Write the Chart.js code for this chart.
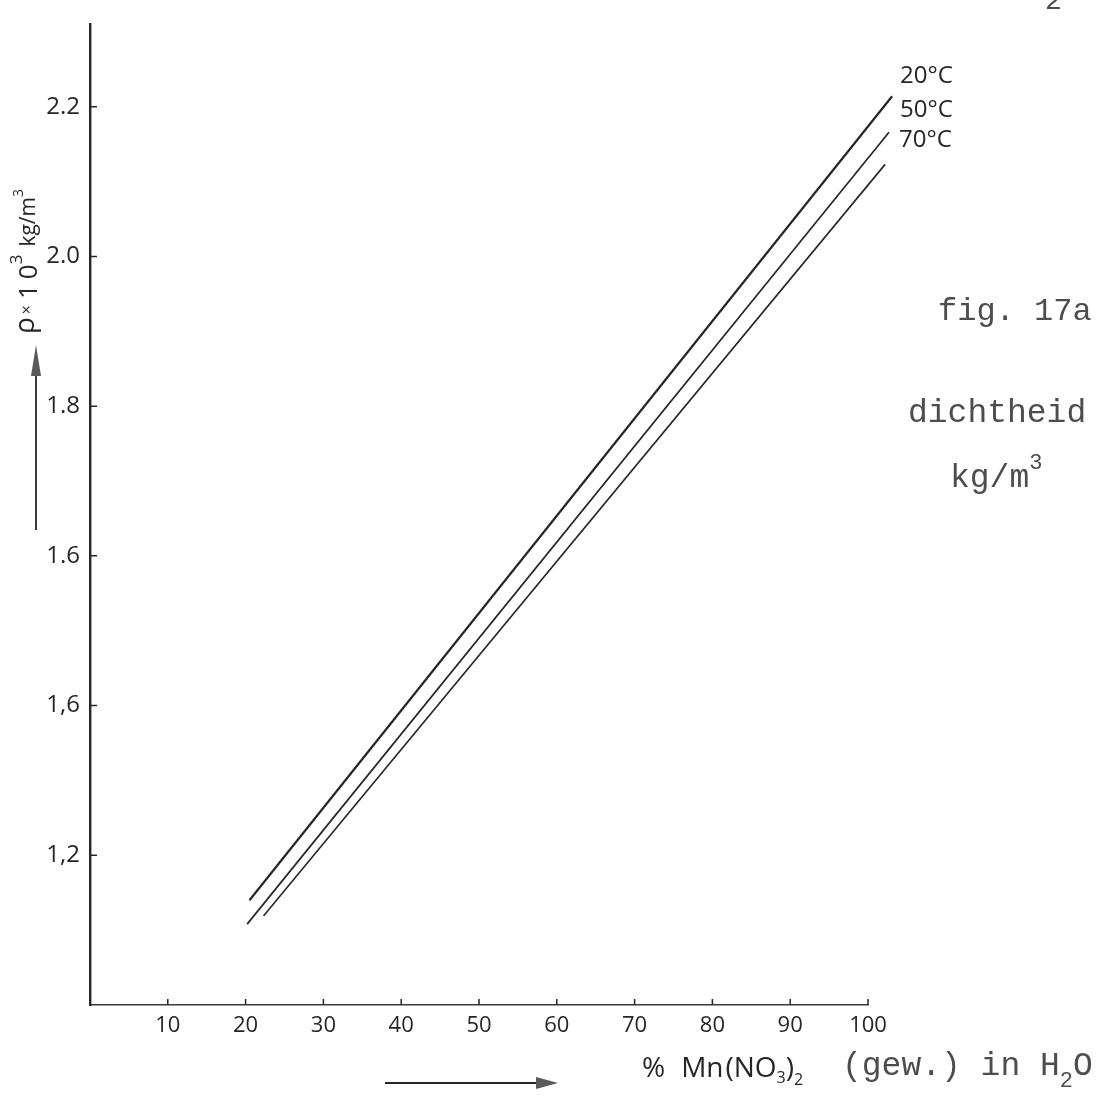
<!DOCTYPE html>
<html lang="nl">
<head>
<meta charset="utf-8">
<title>fig. 17a — dichtheid Mn(NO3)2</title>
<script src="https://cdn.jsdelivr.net/npm/chart.js@4.4.1/dist/chart.umd.min.js"></script>
<style>
  html, body { margin: 0; padding: 0; background: #fff; }
  #wrap { position: relative; width: 1103px; height: 1099px; }
</style>
</head>
<body>
<div id="wrap"><canvas id="dichtheid" width="1103" height="1099"></canvas></div>
<script>
/* ============================================================
   fig. 17a — dichtheid van Mn(NO3)2 in water, 20 / 50 / 70 °C
   ============================================================ */

const temperatures = ['20°C', '50°C', '70°C'];

// % Mn(NO3)2 (gew.) at both ends of each line
const pct20 = [20.5, 103.1];
const pct50 = [20.2, 102.7];
const pct70 = [22.3, 102.2];

// rho x 10^3 kg/m3
const rho20 = [1.140, 2.214];
const rho50 = [1.108, 2.166];
const rho70 = [1.119, 2.123];

const xTicks = [10, 20, 30, 40, 50, 60, 70, 80, 90, 100];
const xTickLabels = ['10', '20', '30', '40', '50', '60', '70', '80', '90', '100'];
const yTicks = [1.2, 1.4, 1.6, 1.8, 2.0, 2.2];
const yTickLabels = ['1,2', '1,6', '1.6', '1.8', '2.0', '2.2'];

const INK = '#262626';
const TYPE_INK = '#4d4d4d';
const HAND = '"Open Sans", "DejaVu Sans", sans-serif';
const MONO = '"Liberation Mono", "DejaVu Sans Mono", monospace';

function pairs(xs, ys) {
  return xs.map((x, i) => ({ x, y: ys[i] }));
}

// write pieces of text one after another (for sub- and superscripts)
function drawRuns(ctx, x, y, runs) {
  runs.forEach(r => {
    ctx.font = r.font;
    ctx.fillText(r.t, x, y + (r.dy || 0));
    x += ctx.measureText(r.t).width + (r.gap || 0);
  });
  return x;
}

/* ── small tick marks on the inside of both axes ── */
const innerTicks = {
  id: 'innerTicks',
  afterDraw(chart) {
    const { ctx, scales: { x, y } } = chart;
    ctx.save();
    ctx.strokeStyle = INK;
    ctx.lineWidth = 1.5;
    ctx.beginPath();
    y.ticks.forEach(t => {
      const py = y.getPixelForValue(t.value);
      ctx.moveTo(y.right, py);
      ctx.lineTo(y.right + 7, py);
    });
    x.ticks.forEach(t => {
      const px = x.getPixelForValue(t.value);
      ctx.moveTo(px, x.top);
      ctx.lineTo(px, x.top - 6);
    });
    ctx.stroke();
    ctx.restore();
  }
};

/* ── temperature next to the end of each line ── */
const curveLabels = {
  id: 'curveLabels',
  afterDatasetsDraw(chart) {
    const ctx = chart.ctx;
    ctx.save();
    ctx.font = `24px ${HAND}`;
    ctx.fillStyle = INK;
    ctx.textBaseline = 'middle';
    chart.data.datasets.forEach((ds, i) => {
      const pts = chart.getDatasetMeta(i).data;
      const end = pts[pts.length - 1];
      ctx.fillText(ds.label, end.x + 8 + i * 3, end.y - 20 - i * 2);
    });
    ctx.restore();
  }
};

/* ── axis titles, arrows and the typed captions ── */
const paperText = {
  id: 'paperText',
  afterDraw(chart) {
    const ctx = chart.ctx;
    ctx.save();
    ctx.textBaseline = 'alphabetic';

    // y title, written upwards
    ctx.fillStyle = INK;
    ctx.save();
    ctx.translate(37, 334);
    ctx.rotate(-Math.PI / 2);
    drawRuns(ctx, 0, 0, [
      { t: 'ρ', font: `28px ${HAND}`, dy: -3, gap: 3 },
      { t: '×', font: `16px ${HAND}`, dy: -5, gap: 6 },
      { t: '1', font: `26px ${HAND}`, gap: 5 },
      { t: '0', font: `26px ${HAND}` },
      { t: '3', font: `17px ${HAND}`, dy: -15, gap: 8 },
      { t: 'kg/m', font: `21px ${HAND}`, dy: -2 },
      { t: '3', font: `14px ${HAND}`, dy: -14 }
    ]);
    ctx.restore();

    // arrows
    ctx.strokeStyle = INK;
    ctx.fillStyle = '#5a5a5a';
    ctx.lineWidth = 1.8;
    ctx.beginPath();
    ctx.moveTo(36, 530); ctx.lineTo(36, 372);
    ctx.moveTo(385, 1083); ctx.lineTo(540, 1083);
    ctx.stroke();
    ctx.beginPath();
    ctx.moveTo(36, 345); ctx.lineTo(31, 376); ctx.lineTo(41, 376); ctx.closePath();
    ctx.moveTo(558, 1083); ctx.lineTo(536, 1077); ctx.lineTo(536, 1089); ctx.closePath();
    ctx.fill();

    // x title: handwritten part
    ctx.fillStyle = INK;
    drawRuns(ctx, 642, 1077, [
      { t: '%', font: `28px ${HAND}`, gap: 16 },
      { t: 'Mn', font: `28px ${HAND}`, gap: 2 },
      { t: '(NO', font: `28px ${HAND}` },
      { t: '3', font: `16px ${HAND}`, dy: 6 },
      { t: ')', font: `28px ${HAND}` },
      { t: '2', font: `16px ${HAND}`, dy: 8 }
    ]);

    // typed part
    ctx.fillStyle = TYPE_INK;
    drawRuns(ctx, 842, 1075, [
      { t: '(gew.) in H', font: `33px ${MONO}` },
      { t: '2', font: `22px ${MONO}`, dy: 12 },
      { t: 'O', font: `33px ${MONO}` }
    ]);

    ctx.font = `32px ${MONO}`;
    ctx.fillText('fig. 17a', 938, 320);
    ctx.font = `33px ${MONO}`;
    ctx.fillText('dichtheid', 908, 422);
    drawRuns(ctx, 950, 487, [
      { t: 'kg/m', font: `33px ${MONO}` },
      { t: '3', font: `22px ${MONO}`, dy: -18 }
    ]);
    ctx.font = `28px ${MONO}`;
    ctx.fillText('2', 1045, 9);

    ctx.restore();
  }
};

const tickFont = { family: HAND, size: 22 };

function lineSet(i, xs, ys, width) {
  return {
    label: temperatures[i],
    data: pairs(xs, ys),
    borderColor: INK,
    borderWidth: width,
    pointRadius: 0,
    tension: 0,
    clip: false
  };
}

new Chart(document.getElementById('dichtheid'), {
  type: 'line',
  data: {
    datasets: [
      lineSet(0, pct20, rho20, 2.2),
      lineSet(1, pct50, rho50, 1.7),
      lineSet(2, pct70, rho70, 1.6)
    ]
  },
  options: {
    responsive: false,
    animation: false,
    devicePixelRatio: 1,
    layout: { padding: { top: 13, right: 235, bottom: 0, left: 0 } },
    plugins: { legend: { display: false }, tooltip: { enabled: false } },
    scales: {
      x: {
        type: 'linear',
        min: 0,
        max: 100,
        grid: { drawOnChartArea: false, drawTicks: false },
        border: { color: '#3a3a3a', width: 1.5 },
        afterBuildTicks: s => { s.ticks = xTicks.map(v => ({ value: v })); },
        afterFit: s => { s.height = 94; },
        ticks: {
          padding: 8,
          color: INK,
          font: tickFont,
          maxRotation: 0,
          autoSkip: false,
          callback: v => xTickLabels[xTicks.indexOf(v)]
        }
      },
      y: {
        type: 'linear',
        min: 1.0,
        max: 2.31,
        grid: { drawOnChartArea: false, drawTicks: false },
        border: { color: INK, width: 2.4 },
        afterBuildTicks: s => { s.ticks = yTicks.map(v => ({ value: v })); },
        afterFit: s => { s.width = 90; },
        ticks: {
          padding: 10,
          color: INK,
          font: { family: HAND, size: 24 },
          autoSkip: false,
          callback: v => yTickLabels[yTicks.indexOf(v)]
        }
      }
    }
  },
  plugins: [innerTicks, curveLabels, paperText]
});
</script>
</body>
</html>
